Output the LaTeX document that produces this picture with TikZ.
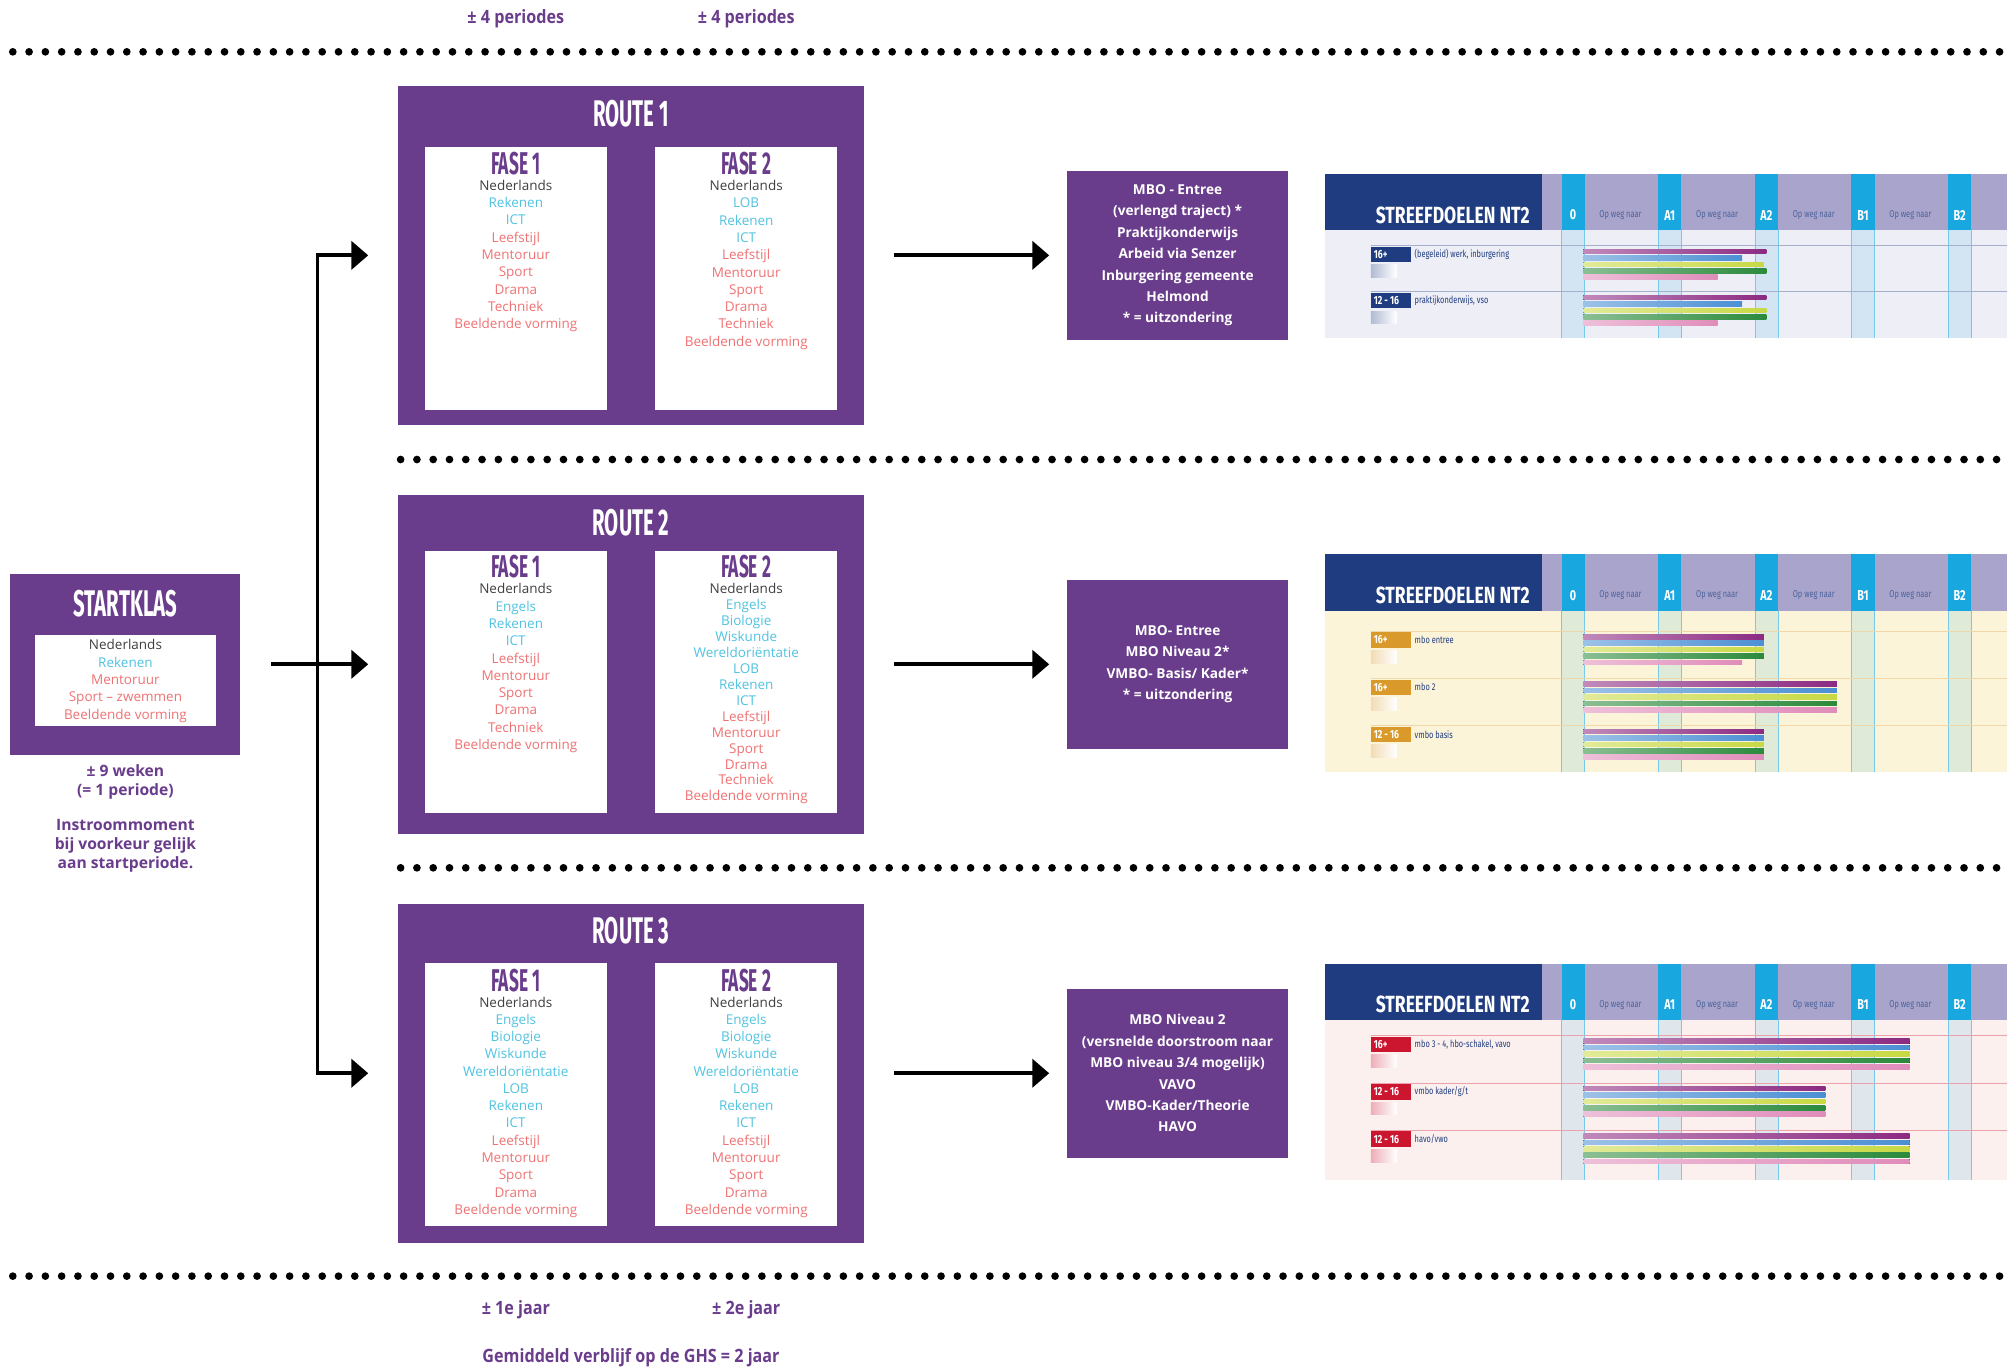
\documentclass[tikz,border=0pt]{standalone}
\usepackage{fontspec}
\setmainfont{Open Sans}
\newfontfamily\kopfont[FakeStretch=0.55]{Fira Sans}
\newfontfamily\smalfont[FakeStretch=0.88]{Open Sans}
\newfontfamily\ntfont[FakeStretch=0.75]{Fira Sans}
\usepackage{tikz}
\usetikzlibrary{calc,positioning,arrows.meta}

\definecolor{paars}{HTML}{6A3C8C}
\definecolor{vakgrijs}{HTML}{3F3F3F}
\definecolor{vakblauw}{HTML}{50C3E0}
\definecolor{vakrood}{HTML}{EF7273}
\definecolor{ntdonker}{HTML}{1F3C80}
\definecolor{ntlila}{HTML}{A9A4CC}
\definecolor{ntcyaan}{HTML}{19A7E0}
\definecolor{ntlijf1}{HTML}{EDEEF6}
\definecolor{ntlijf2}{HTML}{FCF4D9}
\definecolor{ntlijf3}{HTML}{FBF0EE}
\definecolor{ntoranje}{HTML}{D99A2B}
\definecolor{ntrood}{HTML}{CC1630}
\definecolor{bpaars}{HTML}{8C2A82}
\definecolor{bblauw}{HTML}{4B8FD4}
\definecolor{bgeel}{HTML}{C8D944}
\definecolor{bgroen}{HTML}{2B8A3C}
\definecolor{broze}{HTML}{E08CBA}

\newcommand{\grijs}[1]{\textcolor{vakgrijs}{#1}}
\newcommand{\blauw}[1]{\textcolor{vakblauw}{#1}}
\newcommand{\rood}[1]{\textcolor{vakrood}{#1}}

\tikzset{
	>={Triangle[length=0.33cm,width=0.55cm]},
	pijl/.style={->, line width=2.1pt},
	stippel/.style={line width=0.15cm, line cap=round, dash pattern=on 0pt off 0.318cm},
	routebox/.style={fill=paars, minimum width=9.1cm, minimum height=6.625cm, inner sep=0pt},
	fasebox/.style={fill=white, minimum width=3.55cm, minimum height=5.125cm, inner sep=0pt},
	mbobox/.style={fill=paars, text=white, align=center, minimum width=4.3cm, minimum height=3.3cm,
		inner sep=0pt, font=\bfseries\fontsize{7.6}{11.9}\selectfont},
	routetitel/.style={text=white, inner sep=0pt, font=\kopfont\bfseries\fontsize{20.6}{20}\selectfont},
	fasetitel/.style={text=paars, inner sep=0pt, font=\kopfont\bfseries\fontsize{17.5}{17}\selectfont},
	vakken/.style={align=center, inner sep=0pt, font=\fontsize{7.5}{9.6}\selectfont},
	vakken krap/.style={vakken, font=\fontsize{7.5}{8.86}\selectfont},
	periode/.style={text=paars, inner sep=0pt, font=\smalfont\bfseries\fontsize{10.2}{11}\selectfont},
	uitleg/.style={text=paars, align=center, inner sep=0pt, font=\bfseries\fontsize{8.7}{10.5}\selectfont},
	% streefdoelen NT2
	kopbalk/.style={fill=ntlila},
	kopblok/.style={fill=ntdonker},
	niveau/.style={fill=ntcyaan},
	kolom/.style={fill=ntcyaan, fill opacity=0.12},
	kolomlijn/.style={draw=ntcyaan!60, line width=0.3pt},
	koptekst/.style={text=white, inner sep=0pt, font=\ntfont\bfseries\fontsize{13}{13}\selectfont},
	niveautekst/.style={text=white, inner sep=0pt, font=\ntfont\bfseries\fontsize{8}{8}\selectfont},
	opweg/.style={text=ntdonker!80, inner sep=0pt, font=\ntfont\fontsize{5.5}{5.5}\selectfont},
	tagtekst/.style={anchor=west, text=white, inner sep=0pt, font=\ntfont\bfseries\fontsize{6.5}{6.5}\selectfont},
	rijtekst/.style={anchor=west, text=ntdonker, inner sep=0pt, font=\ntfont\fontsize{5.5}{5.5}\selectfont},
}

% kop van een NT2-tabel: #1 achtergrond, #2 hoogte, #3 naam
\newcommand{\ntkop}[3]{
	\fill[#1] (0,0) rectangle (533,#2);
	\foreach \k in {0,...,4}{
		\fill[kolom] ({185+75.5*\k},44) rectangle ++(18,{#2-44});
		\draw[kolomlijn] ({185+75.5*\k},44) -- ++(0,{#2-44}) ++(18,0) -- ++(0,{44-#2});
	}
	\fill[kopbalk] (0,0) rectangle (533,44);
	\fill[kopblok] (0,0) rectangle (170,44);
	\node[koptekst] (#3-kop) at (100,32) {STREEFDOELEN NT2};
	\foreach \niv [count=\k from 0] in {0,A1,A2,B1,B2}{
		\fill[niveau] ({185+75.5*\k},0) rectangle ++(18,44);
		\node[niveautekst] (#3-niv\k) at ({194+75.5*\k},32) {\niv};
	}
	\foreach \k in {0,...,3}
		\node[opweg] (#3-weg\k) at ({231+75.5*\k},32) {Op weg naar};
}

% rij van een NT2-tabel: #1 naam, #2 y, #3 kleur, #4 label, #5 tekst, #6 balken
\newcommand{\ntrij}[6]{
	\draw[draw=#3!40, line width=0.4pt] (36,#2) -- (533,#2);
	\fill[#3] (36,#2+1) rectangle (67,#2+13);
	\fill[left color=#3!35, right color=white] (36,#2+15) rectangle (56,#2+25);
	\node[tagtekst] (#1-tag) at (38,#2+7) {#4};
	\node[rijtekst] (#1-tekst) at (70,#2+7) {#5};
	\foreach \kleur/\eind [count=\k from 0] in {#6}
		\fill[left color=\kleur!55, right color=\kleur] (202,{#2+2.7+5*\k}) rectangle (\eind,{#2+6.3+5*\k});
}

\begin{document}
\begin{tikzpicture}[x=0.025cm, y=-0.025cm]
	\useasboundingbox (0,0) rectangle (1568,1069);

	% periodes en stippellijnen
	\node[periode] (periode1) at (403,15) {± 4 periodes};
	\node[periode] (periode2) at (583,15) {± 4 periodes};
	\draw[stippel] (10,40.5) -- (1568,40.5);
	\draw[stippel] (313,359) -- (1568,359);
	\draw[stippel] (313,678) -- (1568,678);
	\draw[stippel] (10,997) -- (1568,997);
	\node[periode] (jaar1) at (403,1023) {± 1e jaar};
	\node[periode] (jaar2) at (583,1023) {± 2e jaar};
	\node[periode] (verblijf) at (493,1061) {Gemiddeld verblijf op de GHS = 2 jaar};

	% startklas
	\node[fill=paars, minimum width=4.5cm, minimum height=3.525cm, inner sep=0pt] (startklas) at (97.5,519) {};
	\node[routetitel] (startklas-titel) at (98,472) {STARTKLAS};
	\node[fill=white, minimum width=3.55cm, minimum height=1.775cm, inner sep=0pt] (startklas-wit) at (98,531.5) {};
	\node[vakken] (startklas-vakken) at (98,532) {\grijs{Nederlands}\\\blauw{Rekenen}\\\rood{Mentoruur}\\\rood{Sport – zwemmen}\\\rood{Beeldende vorming}};
	\node[uitleg] (duur) at (98,611) {± 9 weken\\(= 1 periode)};
	\node[uitleg] (instroom) at (98,661) {Instroommoment\\bij voorkeur gelijk\\aan startperiode.};

	% route 1
	\node[routebox] (route1) at (493,199.5) {};
	\node[routetitel] (route1-titel) at (493,89) {ROUTE 1};
	\node[fasebox] (route1-fase1) at (403,217.5) {};
	\node[fasebox] (route1-fase2) at (583,217.5) {};
	\node[fasetitel] (route1-titel1) at (403,128) {FASE 1};
	\node[fasetitel] (route1-titel2) at (583,128) {FASE 2};
	\node[vakken] (route1-vakken1) at (403,200) {\grijs{Nederlands}\\\blauw{Rekenen}\\\blauw{ICT}\\\rood{Leefstijl}\\\rood{Mentoruur}\\\rood{Sport}\\\rood{Drama}\\\rood{Techniek}\\\rood{Beeldende vorming}};
	\node[vakken] (route1-vakken2) at (583,207) {\grijs{Nederlands}\\\blauw{LOB}\\\blauw{Rekenen}\\\blauw{ICT}\\\rood{Leefstijl}\\\rood{Mentoruur}\\\rood{Sport}\\\rood{Drama}\\\rood{Techniek}\\\rood{Beeldende vorming}};

	% route 2
	\node[routebox] (route2) at (493,519) {};
	\node[routetitel] (route2-titel) at (493,408) {ROUTE 2};
	\node[fasebox] (route2-fase1) at (403,533) {};
	\node[fasebox] (route2-fase2) at (583,533) {};
	\node[fasetitel] (route2-titel1) at (403,443) {FASE 1};
	\node[fasetitel] (route2-titel2) at (583,443) {FASE 2};
	\node[vakken] (route2-vakken1) at (403,522) {\grijs{Nederlands}\\\blauw{Engels}\\\blauw{Rekenen}\\\blauw{ICT}\\\rood{Leefstijl}\\\rood{Mentoruur}\\\rood{Sport}\\\rood{Drama}\\\rood{Techniek}\\\rood{Beeldende vorming}};
	\node[vakken krap] (route2-vakken2) at (583,542) {\grijs{Nederlands}\\\blauw{Engels}\\\blauw{Biologie}\\\blauw{Wiskunde}\\\blauw{Wereldoriëntatie}\\\blauw{LOB}\\\blauw{Rekenen}\\\blauw{ICT}\\\rood{Leefstijl}\\\rood{Mentoruur}\\\rood{Sport}\\\rood{Drama}\\\rood{Techniek}\\\rood{Beeldende vorming}};

	% route 3
	\node[routebox] (route3) at (493,838.5) {};
	\node[routetitel] (route3-titel) at (493,727) {ROUTE 3};
	\node[fasebox] (route3-fase1) at (403,855) {};
	\node[fasebox] (route3-fase2) at (583,855) {};
	\node[fasetitel] (route3-titel1) at (403,766) {FASE 1};
	\node[fasetitel] (route3-titel2) at (583,766) {FASE 2};
	\node[vakken] (route3-vakken1) at (403,865) {\grijs{Nederlands}\\\blauw{Engels}\\\blauw{Biologie}\\\blauw{Wiskunde}\\\blauw{Wereldoriëntatie}\\\blauw{LOB}\\\blauw{Rekenen}\\\blauw{ICT}\\\rood{Leefstijl}\\\rood{Mentoruur}\\\rood{Sport}\\\rood{Drama}\\\rood{Beeldende vorming}};
	\node[vakken] (route3-vakken2) at (583,865) {\grijs{Nederlands}\\\blauw{Engels}\\\blauw{Biologie}\\\blauw{Wiskunde}\\\blauw{Wereldoriëntatie}\\\blauw{LOB}\\\blauw{Rekenen}\\\blauw{ICT}\\\rood{Leefstijl}\\\rood{Mentoruur}\\\rood{Sport}\\\rood{Drama}\\\rood{Beeldende vorming}};

	% uitstroom
	\node[mbobox] (mbo1) at (920,199.5) {MBO - Entree\\(verlengd traject) *\\Praktijkonderwijs\\Arbeid via Senzer\\Inburgering gemeente\\Helmond\\* = uitzondering};
	\node[mbobox] (mbo2) at (920,519) {MBO- Entree\\MBO Niveau 2*\\VMBO- Basis/ Kader*\\* = uitzondering};
	\node[mbobox] (mbo3) at (920,838.5) {MBO Niveau 2\\(versnelde doorstroom naar\\MBO niveau 3/4 mogelijk)\\VAVO\\VMBO-Kader/Theorie\\HAVO};

	% pijlen
	\coordinate (splitsing) at (248,519);
	\draw[pijl, shorten <=0.6cm, shorten >=0.575cm] (startklas) -- (route2);
	\draw[pijl, shorten >=0.575cm] (splitsing) |- (route1);
	\draw[pijl, shorten >=0.575cm] (splitsing) |- (route3);
	\draw[pijl, shorten <=0.575cm, shorten >=0.35cm] (route1) -- (mbo1);
	\draw[pijl, shorten <=0.575cm, shorten >=0.35cm] (route2) -- (mbo2);
	\draw[pijl, shorten <=0.575cm, shorten >=0.35cm] (route3) -- (mbo3);

	% streefdoelen NT2
	\begin{scope}[shift={(1035,136)}]
		\ntkop{ntlijf1}{128}{nt1}
		\ntrij{nt1r1}{56}{ntdonker}{16+}{(begeleid) werk, inburgering}{bpaars/345,bblauw/326,bgeel/343,bgroen/345,broze/307}
		\ntrij{nt1r2}{92}{ntdonker}{12 - 16}{praktijkonderwijs, vso}{bpaars/345,bblauw/326,bgeel/345,bgroen/345,broze/307}
	\end{scope}
	\begin{scope}[shift={(1035,433)}]
		\ntkop{ntlijf2}{170}{nt2}
		\ntrij{nt2r1}{60}{ntoranje}{16+}{mbo entree}{bpaars/343,bblauw/343,bgeel/343,bgroen/343,broze/326}
		\ntrij{nt2r2}{97}{ntoranje}{16+}{mbo 2}{bpaars/400,bblauw/400,bgeel/400,bgroen/400,broze/400}
		\ntrij{nt2r3}{134}{ntoranje}{12 - 16}{vmbo basis}{bpaars/343,bblauw/343,bgeel/343,bgroen/343,broze/343}
	\end{scope}
	\begin{scope}[shift={(1035,753)}]
		\ntkop{ntlijf3}{169}{nt3}
		\ntrij{nt3r1}{56}{ntrood}{16+}{mbo 3 - 4, hbo-schakel, vavo}{bpaars/457,bblauw/457,bgeel/457,bgroen/457,broze/457}
		\ntrij{nt3r2}{93}{ntrood}{12 - 16}{vmbo kader/g/t}{bpaars/391,bblauw/391,bgeel/391,bgroen/391,broze/391}
		\ntrij{nt3r3}{130}{ntrood}{12 - 16}{havo/vwo}{bpaars/457,bblauw/457,bgeel/457,bgroen/457,broze/457}
	\end{scope}
\end{tikzpicture}
\end{document}
